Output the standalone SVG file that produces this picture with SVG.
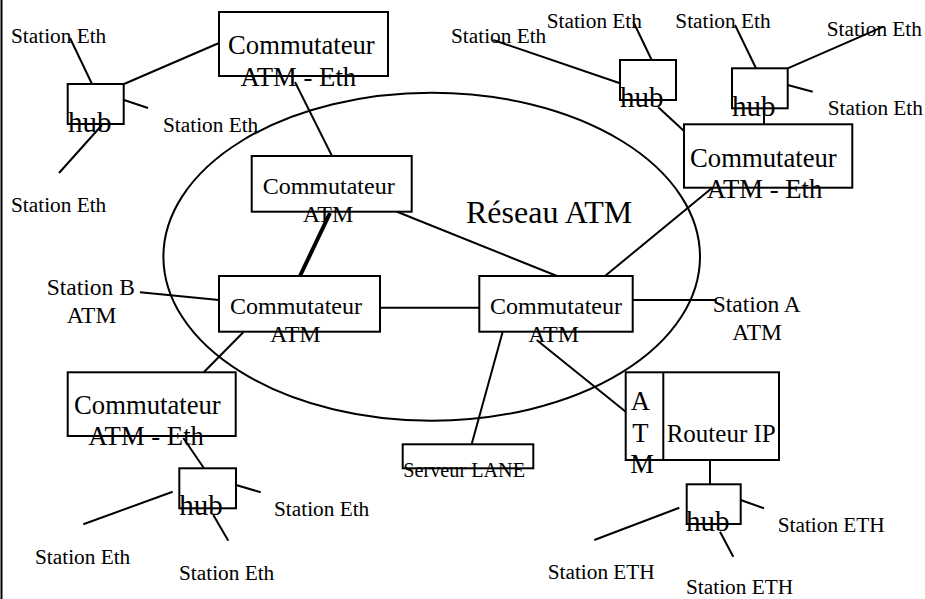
<svg xmlns="http://www.w3.org/2000/svg" width="925" height="599" viewBox="0 0 925 599" font-family="'Liberation Serif', 'Times New Roman', Tinos, 'DejaVu Serif', serif">
<style>
text{font-family:'Liberation Serif','Times New Roman',Tinos,'DejaVu Serif',serif;fill:#000}
.box{fill:none;stroke:#000;stroke-width:2}
.ln{stroke:#000;stroke-width:2;fill:none}
.st{font-size:21.3px}
.big{font-size:26.7px}
.mid{font-size:24px}
.hub{font-size:29px}
</style>
<rect x="0" y="0" width="925" height="599" fill="#fff"/>
<line x1="1.5" y1="0" x2="1.5" y2="599" class="ln"/>
<ellipse id="reseau" cx="431.7" cy="256.7" rx="268.3" ry="164" class="ln"/>
<g id="connectors">
<line x1="70" y1="38" x2="92" y2="84" class="ln"/>
<line x1="124" y1="84" x2="219" y2="43" class="ln"/>
<line x1="124" y1="100" x2="148" y2="108" class="ln"/>
<line x1="102" y1="125" x2="59" y2="173" class="ln"/>
<line x1="295" y1="82" x2="332" y2="156" class="ln"/>
<line x1="330" y1="213" x2="300" y2="276" stroke="#000" stroke-width="4"/>
<line x1="397" y1="211.7" x2="557" y2="276" class="ln"/>
<line x1="605" y1="276" x2="712" y2="188" class="ln"/>
<line x1="380" y1="307.7" x2="479.3" y2="307.7" class="ln"/>
<line x1="140" y1="292.3" x2="219" y2="300" class="ln"/>
<line x1="243.3" y1="332.3" x2="204" y2="372" class="ln"/>
<line x1="183.3" y1="438" x2="204" y2="468.3" class="ln"/>
<line x1="236" y1="485" x2="260.7" y2="492.3" class="ln"/>
<line x1="172.7" y1="491.7" x2="83.3" y2="524.3" class="ln"/>
<line x1="213.3" y1="515" x2="228.3" y2="540.7" class="ln"/>
<line x1="632.7" y1="300" x2="716.7" y2="300" class="ln"/>
<line x1="502.7" y1="331.7" x2="471.7" y2="444" class="ln"/>
<line x1="536.7" y1="340" x2="625.7" y2="411.7" class="ln"/>
<line x1="710" y1="460" x2="710" y2="484.3" class="ln"/>
<line x1="740.7" y1="500" x2="764" y2="508.3" class="ln"/>
<line x1="679.3" y1="507.7" x2="594.3" y2="540" class="ln"/>
<line x1="720" y1="531.7" x2="733.3" y2="556.7" class="ln"/>
<line x1="493.3" y1="40" x2="620" y2="83.3" class="ln"/>
<line x1="633.3" y1="21.7" x2="651.7" y2="60" class="ln"/>
<line x1="658.3" y1="107.3" x2="684" y2="131" class="ln"/>
<line x1="735" y1="25" x2="756" y2="68.3" class="ln"/>
<line x1="787.7" y1="68.3" x2="883.3" y2="26.7" class="ln"/>
<line x1="787.7" y1="85" x2="812.7" y2="91.7" class="ln"/>
<line x1="764" y1="108.3" x2="764" y2="124.3" class="ln"/>
</g>
<g id="reseau-label"><text x="466" y="223.3" font-size="32px">Réseau ATM</text></g>
<g id="comm-eth-tl">
<rect x="219" y="12" width="169" height="64" class="box"/>
<text x="228" y="54" class="big">Commutateur</text>
<text x="240.5" y="86" class="big">ATM - Eth</text>
</g>
<g id="hub-tl">
<rect x="67.7" y="84" width="56" height="40" class="box"/>
<text x="68" y="131.7" class="hub">hub</text>
</g>
<g id="st-tl1"><text x="11" y="43" class="st">Station Eth</text></g>
<g id="st-tl2"><text x="163" y="132" class="st">Station Eth</text></g>
<g id="st-tl3"><text x="11" y="212" class="st">Station Eth</text></g>
<g id="comm-atm-top">
<rect x="251.7" y="156" width="160" height="55.7" class="box"/>
<text x="262.7" y="194" class="mid">Commutateur</text>
<text x="302.7" y="221.7" class="mid">ATM</text>
</g>
<g id="comm-atm-left">
<rect x="219" y="276" width="161" height="55.7" class="box"/>
<text x="230" y="314" class="mid">Commutateur</text>
<text x="270" y="341.7" class="mid">ATM</text>
</g>
<g id="comm-atm-right">
<rect x="479.3" y="276" width="153.4" height="55.7" class="box"/>
<text x="490" y="314" class="mid">Commutateur</text>
<text x="528.3" y="341.7" class="mid">ATM</text>
</g>
<g id="station-b">
<text x="46.7" y="295" font-size="23.5px">Station B</text>
<text x="66.7" y="322.7" font-size="23.5px">ATM</text>
</g>
<g id="station-a">
<text x="712.7" y="312.3" font-size="23.5px">Station A</text>
<text x="732.3" y="340" font-size="23.5px">ATM</text>
</g>
<g id="comm-eth-bl">
<rect x="67.7" y="372.3" width="168" height="63.7" class="box"/>
<text x="74" y="414" class="big">Commutateur</text>
<text x="88.3" y="445" class="big">ATM - Eth</text>
</g>
<g id="hub-bl">
<rect x="179.3" y="468.3" width="56.7" height="40" class="box"/>
<text x="179.3" y="515" class="hub">hub</text>
</g>
<g id="st-bl1"><text x="274" y="516" class="st">Station Eth</text></g>
<g id="st-bl2"><text x="35" y="564" class="st">Station Eth</text></g>
<g id="st-bl3"><text x="179" y="580" class="st">Station Eth</text></g>
<g id="serveur-lane">
<rect x="402.7" y="444.3" width="130.6" height="24" class="box"/>
<text x="403.3" y="477.3" font-size="21px" textLength="121.7" lengthAdjust="spacingAndGlyphs">Serveur LANE</text>
</g>
<g id="routeur">
<rect x="625.7" y="372.3" width="153.3" height="87.7" class="box"/>
<line x1="663.3" y1="372.3" x2="663.3" y2="460" class="ln"/>
<text x="640.3" y="410" class="big" text-anchor="middle">A</text>
<text x="640.3" y="441.7" class="big" text-anchor="middle">T</text>
<text x="642" y="473.3" class="big" text-anchor="middle">M</text>
<text x="666.7" y="441.7" font-size="25px" textLength="109" lengthAdjust="spacingAndGlyphs">Routeur IP</text>
</g>
<g id="hub-br">
<rect x="686.7" y="484.3" width="54" height="39.7" class="box"/>
<text x="686" y="530.7" class="hub">hub</text>
</g>
<g id="st-br1"><text x="777.7" y="531.7" class="st">Station ETH</text></g>
<g id="st-br2"><text x="547.7" y="579.3" class="st">Station ETH</text></g>
<g id="st-br3"><text x="686" y="594.3" class="st">Station ETH</text></g>
<g id="comm-eth-tr">
<rect x="684" y="124.3" width="168.3" height="63.4" class="box"/>
<text x="690" y="166.7" class="big">Commutateur</text>
<text x="706.7" y="198.3" class="big">ATM - Eth</text>
</g>
<g id="hub-tr1">
<rect x="620" y="60" width="56" height="40" class="box"/>
<text x="620" y="107.3" class="hub">hub</text>
</g>
<g id="hub-tr2">
<rect x="732" y="68.3" width="55.7" height="40" class="box"/>
<text x="732" y="115.7" class="hub">hub</text>
</g>
<g id="st-tr1"><text x="451" y="43.3" class="st">Station Eth</text></g>
<g id="st-tr2"><text x="546.7" y="27.7" class="st">Station Eth</text></g>
<g id="st-tr3"><text x="675.3" y="27.7" class="st">Station Eth</text></g>
<g id="st-tr4"><text x="826.7" y="35.7" class="st">Station Eth</text></g>
<g id="st-tr5"><text x="827.7" y="115" class="st">Station Eth</text></g>
</svg>
